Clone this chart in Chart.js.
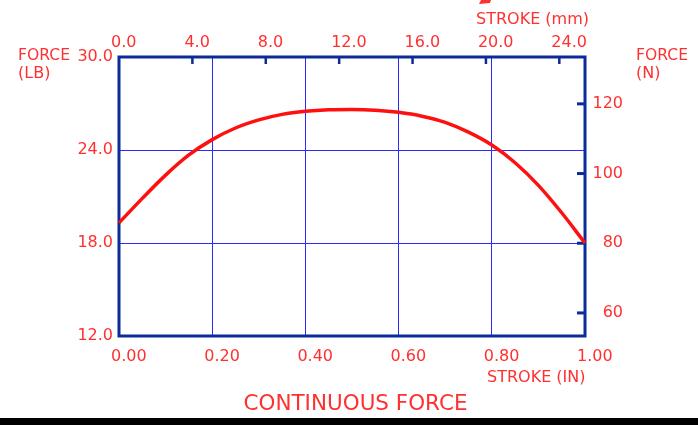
<!DOCTYPE html>
<html>
<head>
<meta charset="utf-8">
<script src="https://cdn.jsdelivr.net/npm/chart.js@4.4.1/dist/chart.umd.min.js"></script>
<style>
  html, body { margin: 0; padding: 0; background: #ffffff; }
  canvas { display: block; }
</style>
</head>
<body>
<canvas id="c" width="698" height="425"></canvas>
<script>
// ---- data ----
const strokeIn = [0, 0.05, 0.1, 0.15, 0.2, 0.25, 0.3, 0.35, 0.4, 0.45, 0.5,
                  0.55, 0.6, 0.65, 0.7, 0.75, 0.8, 0.85, 0.9, 0.95, 1.0];
const forceLb  = [19.3, 20.88, 22.38, 23.68, 24.67, 25.42, 25.94, 26.3, 26.5, 26.6, 26.62,
                  26.57, 26.43, 26.18, 25.78, 25.15, 24.32, 23.18, 21.72, 19.95, 18.0];
const xTicksIn = [0, 0.2, 0.4, 0.6, 0.8, 1.0];
const yTicksLb = [12, 18, 24, 30];
const xTicksMm = [0, 4, 8, 12, 16, 20, 24];
const yTicksN  = [60, 80, 100, 120];
const LB_TO_N = 4.44822;
const IN_TO_MM = 25.4;

const RED = '#ff3030';
const NAVY = '#0b2a9c';
const GRID = '#2a2aff';
const FONT = 'DejaVu Sans';

function setTicks(arr) {
  return function (scale) { scale.ticks = arr.map(v => ({ value: v })); };
}
function fitW(w) { return function (scale) { scale.width = w; }; }
function fitH(h) { return function (scale) { scale.height = h; }; }

const decor = {
  id: 'decor',
  beforeDatasetsDraw(chart) {
    const { ctx, chartArea: a } = chart;
    ctx.save();
    // frame
    ctx.strokeStyle = NAVY;
    ctx.lineWidth = 3;
    ctx.strokeRect(a.left, a.top, a.right - a.left, a.bottom - a.top);
    // inward tick stubs on top axis (mm)
    const x2 = chart.scales.x2;
    ctx.lineWidth = 2.5;
    x2.ticks.forEach(t => {
      if (t.value <= 0) return;
      const px = x2.getPixelForValue(t.value);
      ctx.beginPath(); ctx.moveTo(px, a.top); ctx.lineTo(px, a.top + 7); ctx.stroke();
    });
    // inward tick stubs on right axis (N)
    const y2 = chart.scales.y2;
    ctx.lineWidth = 3;
    y2.ticks.forEach(t => {
      const py = y2.getPixelForValue(t.value);
      ctx.beginPath(); ctx.moveTo(a.right - 8, py); ctx.lineTo(a.right, py); ctx.stroke();
    });
    ctx.restore();
  },
  afterDraw(chart) {
    const { ctx } = chart;
    ctx.save();
    ctx.fillStyle = RED;
    ctx.textBaseline = 'middle';
    ctx.textAlign = 'left';
    ctx.font = '16px "' + FONT + '"';
    ctx.fillText('FORCE', 18, 56, 52);
    ctx.fillText('(LB)', 18, 74, 35);
    ctx.fillText('FORCE', 636, 56, 52);
    ctx.fillText('(N)', 636, 74, 27);
    ctx.fillText('STROKE (mm)', 476, 19.5, 118);
    ctx.fillText('STROKE (IN)', 487, 378, 104);
    ctx.font = '22px "' + FONT + '"';
    ctx.textAlign = 'center';
    ctx.fillText('CONTINUOUS FORCE', 355.5, 404, 224);
    // small red mark at top edge
    ctx.beginPath();
    ctx.moveTo(479, 4); ctx.lineTo(481, 0); ctx.lineTo(491, 0); ctx.lineTo(490, 3);
    ctx.closePath(); ctx.fill();
    // black band at bottom
    ctx.fillStyle = '#000000';
    ctx.fillRect(0, 418, 698, 7);
    ctx.restore();
  }
};

new Chart(document.getElementById('c'), {
  type: 'line',
  data: {
    datasets: [{
      data: strokeIn.map((x, i) => ({ x: x, y: forceLb[i] })),
      borderColor: '#ff1010',
      borderWidth: 3.5,
      pointRadius: 0,
      cubicInterpolationMode: 'monotone',
      fill: false,
      clip: 6,
      xAxisID: 'x',
      yAxisID: 'y'
    }]
  },
  options: {
    responsive: false,
    devicePixelRatio: 1,
    animation: false,
    events: [],
    layout: { padding: { left: 0, top: 0, bottom: 0, right: 75 }, autoPadding: false },
    plugins: { legend: { display: false }, tooltip: { enabled: false }, title: { display: false } },
    scales: {
      x: {
        type: 'linear', position: 'bottom', min: 0, max: 1,
        afterBuildTicks: setTicks(xTicksIn),
        afterFit: fitH(89),
        border: { display: false },
        grid: {
          drawTicks: false,
          color: c => (c.tick && c.tick.value > 0 && c.tick.value < 1) ? GRID : 'rgba(0,0,0,0)',
          lineWidth: 1
        },
        ticks: {
          color: RED, font: { family: FONT, size: 16 }, padding: 11,
          align: 'start', labelOffset: -8, maxRotation: 0, autoSkip: false,
          callback: v => Number(v).toFixed(2)
        }
      },
      x2: {
        type: 'linear', position: 'top', min: 0, max: IN_TO_MM,
        afterBuildTicks: setTicks(xTicksMm),
        afterFit: fitH(57),
        border: { display: false },
        grid: { drawTicks: false, drawOnChartArea: false },
        ticks: {
          color: RED, font: { family: FONT, size: 16 }, padding: 5,
          align: 'start', labelOffset: -8, maxRotation: 0, autoSkip: false,
          callback: v => Number(v).toFixed(1)
        }
      },
      y: {
        type: 'linear', position: 'left', min: 12, max: 30,
        afterBuildTicks: setTicks(yTicksLb),
        afterFit: fitW(119),
        border: { display: false },
        grid: {
          drawTicks: false,
          color: c => (c.tick && c.tick.value > 12 && c.tick.value < 30) ? GRID : 'rgba(0,0,0,0)',
          lineWidth: 1
        },
        ticks: {
          color: RED, font: { family: FONT, size: 16 }, padding: 6, autoSkip: false,
          callback: v => Number(v).toFixed(1)
        }
      },
      y2: {
        type: 'linear', position: 'right', min: 12 * LB_TO_N, max: 30 * LB_TO_N,
        afterBuildTicks: setTicks(yTicksN),
        afterFit: fitW(38),
        border: { display: false },
        grid: { drawTicks: false, drawOnChartArea: false },
        ticks: {
          color: RED, font: { family: FONT, size: 16 }, padding: 10, crossAlign: 'far', autoSkip: false,
          callback: v => String(Math.round(v))
        }
      }
    }
  },
  plugins: [decor]
});
</script>
</body>
</html>
